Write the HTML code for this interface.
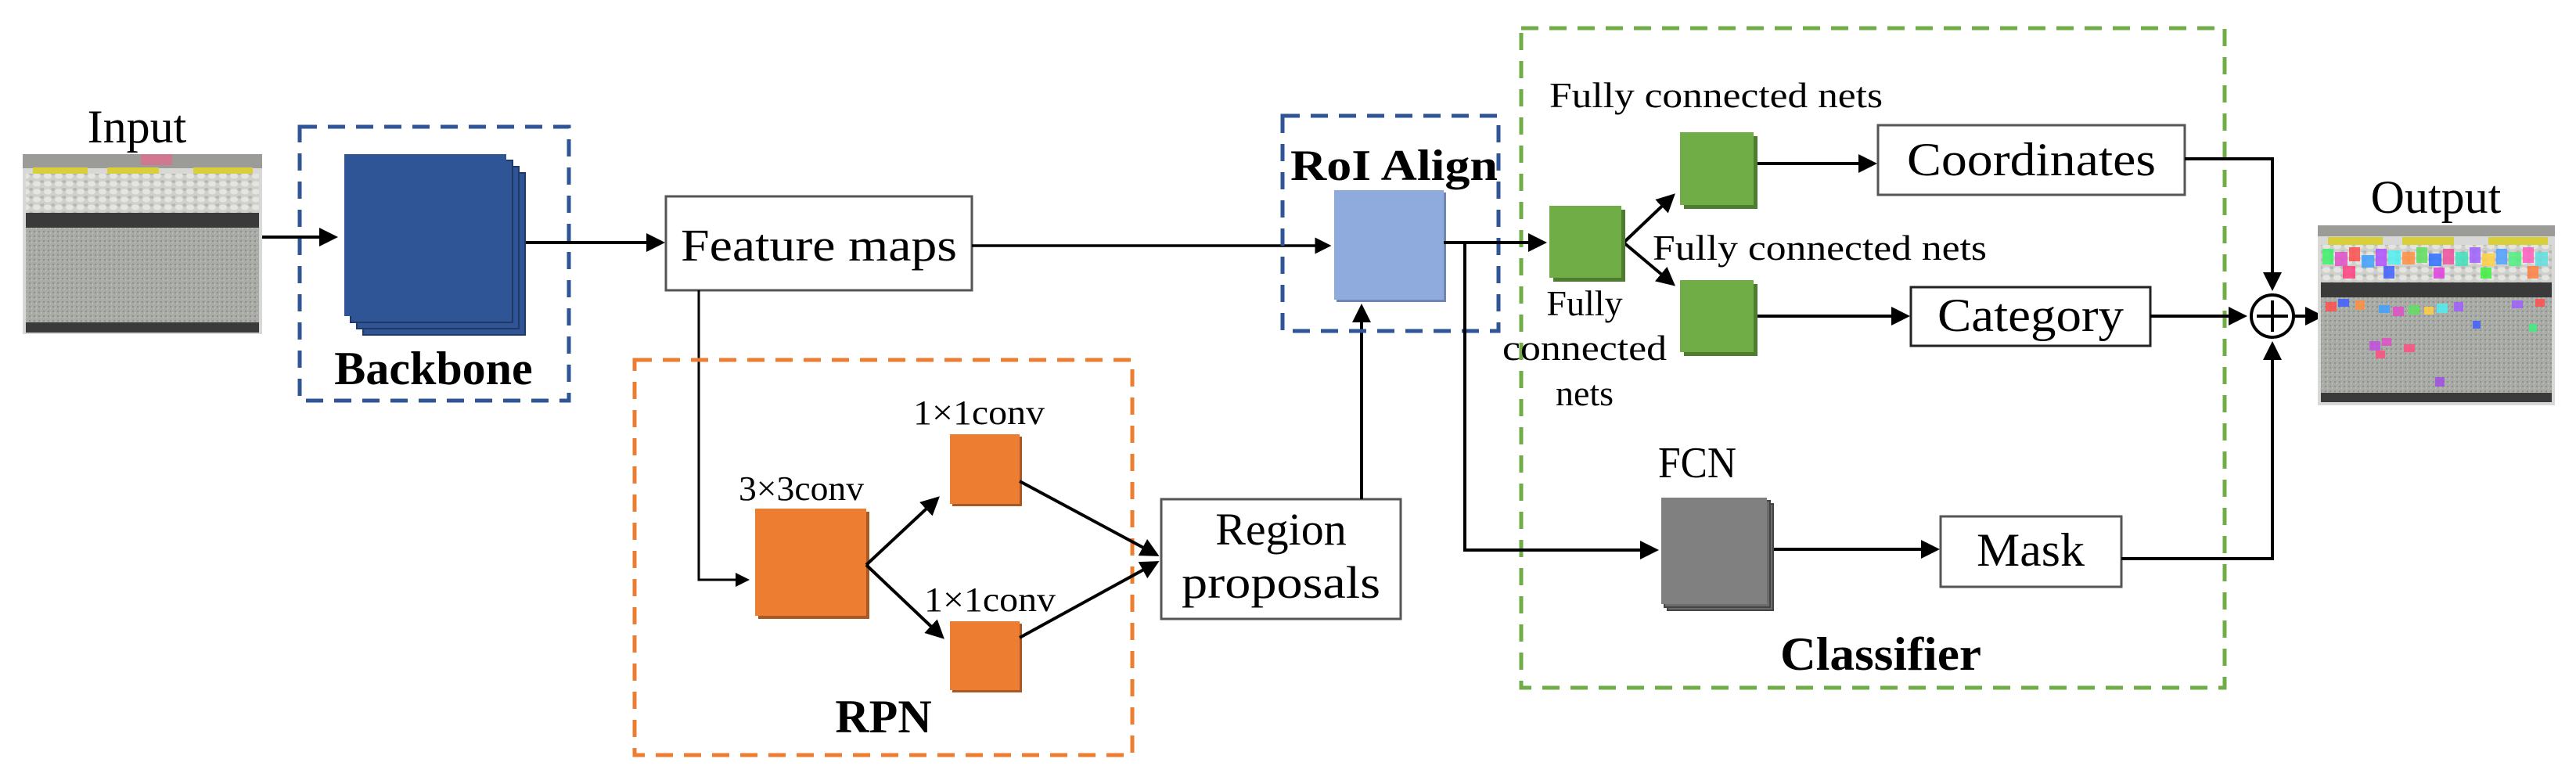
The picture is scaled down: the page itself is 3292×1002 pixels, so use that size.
<!DOCTYPE html>
<html><head><meta charset="utf-8"><style>
html,body{margin:0;padding:0;background:#fff;}
svg{display:block;}
svg text{font-family:"Liberation Serif","DejaVu Serif",serif !important;fill:#000;}
</style></head><body>
<svg width="3292" height="1002" viewBox="0 0 3292 1002" xmlns="http://www.w3.org/2000/svg" font-family="Liberation Serif, DejaVu Serif, serif">
<defs>
<marker id="ah" markerWidth="6" markerHeight="6" refX="5" refY="3" orient="auto" markerUnits="strokeWidth">
<path d="M0,0 L6,3 L0,6 z" fill="#000"/></marker>
<pattern id="stones" width="14" height="10" patternUnits="userSpaceOnUse">
<rect width="14" height="10" fill="#cfd0cc"/><ellipse cx="5" cy="5" rx="5" ry="3.5" fill="#e4e5e1"/><ellipse cx="12" cy="2" rx="3" ry="2" fill="#b8b9b4"/></pattern>
<pattern id="sand" width="6" height="6" patternUnits="userSpaceOnUse">
<rect width="6" height="6" fill="#a9aba6"/><rect x="1" y="1" width="2" height="2" fill="#8e908b"/><rect x="4" y="3" width="1" height="2" fill="#c3c4c0"/></pattern>
</defs>
<g font-family="Liberation Serif, DejaVu Serif, serif">

<!-- Input -->
<text x="175" y="182" font-size="60" text-anchor="middle">Input</text>
<g>
<rect x="29" y="197" width="306" height="230" fill="#d8d8d6"/>
<rect x="29" y="197" width="306" height="18" fill="#9b9b98"/>
<rect x="180" y="197" width="40" height="14" fill="#d07890"/>
<rect x="42" y="214" width="70" height="8" fill="#d9cf3b"/>
<rect x="137" y="214" width="66" height="8" fill="#d9cf3b"/>
<rect x="247" y="214" width="76" height="8" fill="#d9cf3b"/>
<rect x="33" y="222" width="298" height="50" fill="url(#stones)"/>
<rect x="33" y="272" width="298" height="19" fill="#3a3a3a"/>
<rect x="33" y="291" width="298" height="121" fill="url(#sand)"/>
<rect x="33" y="412" width="298" height="13" fill="#3a3a3a"/>
</g>

<!-- Backbone -->
<rect x="383" y="162" width="344" height="350" fill="none" stroke="#2f5597" stroke-width="5" stroke-dasharray="22,14"/>
<g stroke="#1f3864" stroke-width="2">
<rect x="464" y="221" width="207" height="207" fill="#2f5597"/>
<rect x="456" y="213" width="207" height="207" fill="#2f5597"/>
<rect x="448" y="205" width="207" height="207" fill="#2f5597"/>
<rect x="440" y="197" width="207" height="207" fill="#2f5597" stroke="none"/>
</g>
<text x="554" y="491" font-size="60" font-weight="bold" text-anchor="middle">Backbone</text>

<g stroke="#000" stroke-width="4" fill="none">
<line x1="335" y1="303" x2="428" y2="303" marker-end="url(#ah)"/>
<line x1="672" y1="310" x2="846" y2="310" marker-end="url(#ah)"/>
</g>

<!-- Feature maps -->
<rect x="851" y="251" width="391" height="120" fill="#fff" stroke="#555" stroke-width="3"/>
<text x="870" y="333" font-size="58" textLength="353" lengthAdjust="spacingAndGlyphs">Feature maps</text>
<line x1="1242" y1="314" x2="1698" y2="314" stroke="#000" stroke-width="3.5" marker-end="url(#ah)"/>
<polyline points="893,371 893,741 955,741" fill="none" stroke="#000" stroke-width="3" marker-end="url(#ah)"/>

<!-- RPN -->
<rect x="811" y="460" width="636" height="505" fill="none" stroke="#ed7d31" stroke-width="5" stroke-dasharray="22,14"/>
<text x="944" y="639" font-size="44" textLength="160" lengthAdjust="spacingAndGlyphs">3×3conv</text>
<rect x="969" y="654" width="142" height="137" fill="#a95a24"/>
<rect x="965" y="650" width="142" height="137" fill="#ed7d31"/>
<text x="1167" y="542" font-size="44" textLength="168" lengthAdjust="spacingAndGlyphs">1×1conv</text>
<rect x="1217" y="558" width="89" height="89" fill="#a95a24"/>
<rect x="1214" y="555" width="89" height="89" fill="#ed7d31"/>
<text x="1181" y="781" font-size="44" textLength="168" lengthAdjust="spacingAndGlyphs">1×1conv</text>
<rect x="1217" y="797" width="89" height="88" fill="#a95a24"/>
<rect x="1214" y="794" width="89" height="88" fill="#ed7d31"/>
<text x="1129" y="936" font-size="60" font-weight="bold" text-anchor="middle">RPN</text>
<g stroke="#000" stroke-width="4" fill="none">
<line x1="1107" y1="722" x2="1198" y2="637" marker-end="url(#ah)"/>
<line x1="1107" y1="722" x2="1204" y2="814" marker-end="url(#ah)"/>
<line x1="1303" y1="615" x2="1478" y2="709" marker-end="url(#ah)"/>
<line x1="1303" y1="815" x2="1478" y2="719" marker-end="url(#ah)"/>
</g>

<!-- Region proposals -->
<rect x="1484" y="638" width="306" height="153" fill="#fff" stroke="#555" stroke-width="3"/>
<text x="1637" y="696" font-size="58" text-anchor="middle">Region</text>
<text x="1637" y="764" font-size="58" text-anchor="middle" textLength="254" lengthAdjust="spacingAndGlyphs">proposals</text>
<line x1="1740" y1="638" x2="1740" y2="392" stroke="#000" stroke-width="4" marker-end="url(#ah)"/>

<!-- RoI Align -->
<rect x="1639" y="148" width="276" height="275" fill="none" stroke="#2f5597" stroke-width="5" stroke-dasharray="22,14"/>
<rect x="1708" y="246" width="140" height="140" fill="#6f86b0"/>
<rect x="1705" y="243" width="140" height="140" fill="#8faadc"/>
<text x="1649" y="230" font-size="56" font-weight="bold" textLength="265" lengthAdjust="spacingAndGlyphs">RoI Align</text>

<!-- Classifier -->
<rect x="1944" y="36" width="899" height="843" fill="none" stroke="#70ad47" stroke-width="5" stroke-dasharray="22,14"/>
<text x="2275" y="856" font-size="60" font-weight="bold" textLength="257" lengthAdjust="spacingAndGlyphs">Classifier</text>

<g stroke="#000" stroke-width="4" fill="none">
<line x1="1845" y1="310" x2="1973" y2="310" marker-end="url(#ah)"/>
<polyline points="1872,310 1872,703 2116,703" marker-end="url(#ah)"/>
<line x1="2075" y1="310" x2="2138" y2="250" marker-end="url(#ah)"/>
<line x1="2075" y1="310" x2="2138" y2="363" marker-end="url(#ah)"/>
<line x1="2241" y1="209" x2="2395" y2="209" marker-end="url(#ah)"/>
<line x1="2241" y1="404" x2="2437" y2="404" marker-end="url(#ah)"/>
<line x1="2266" y1="702" x2="2475" y2="702" marker-end="url(#ah)"/>
</g>

<rect x="1985" y="268" width="92" height="92" fill="#4e7d2f"/>
<rect x="1980" y="263" width="92" height="92" fill="#70ad47"/>
<text x="2025" y="403" font-size="46" text-anchor="middle">Fully</text>
<text x="2025" y="460" font-size="46" text-anchor="middle" textLength="210" lengthAdjust="spacingAndGlyphs">connected</text>
<text x="2025" y="518" font-size="46" text-anchor="middle">nets</text>

<text x="1980" y="137" font-size="46" textLength="426" lengthAdjust="spacingAndGlyphs">Fully connected nets</text>
<rect x="2152" y="174" width="94" height="93" fill="#4e7d2f"/>
<rect x="2147" y="169" width="94" height="93" fill="#70ad47"/>
<text x="2112" y="332" font-size="46" textLength="427" lengthAdjust="spacingAndGlyphs">Fully connected nets</text>
<rect x="2152" y="363" width="94" height="92" fill="#4e7d2f"/>
<rect x="2147" y="358" width="94" height="92" fill="#70ad47"/>

<!-- FCN -->
<text x="2119" y="610" font-size="56" textLength="100" lengthAdjust="spacingAndGlyphs">FCN</text>
<g stroke="#444" stroke-width="2">
<rect x="2131" y="644" width="135" height="136" fill="#6b6b6b"/>
<rect x="2127" y="640" width="135" height="136" fill="#6b6b6b"/>
<rect x="2123" y="636" width="135" height="136" fill="#808080" stroke="none"/>
</g>

<!-- outputs -->
<rect x="2400" y="160" width="392" height="89" fill="#fff" stroke="#555" stroke-width="3"/>
<text x="2596" y="224" font-size="60" text-anchor="middle" textLength="318" lengthAdjust="spacingAndGlyphs">Coordinates</text>
<rect x="2442" y="367" width="306" height="75" fill="#fff" stroke="#222" stroke-width="3"/>
<text x="2595" y="423" font-size="60" text-anchor="middle" textLength="238" lengthAdjust="spacingAndGlyphs">Category</text>
<rect x="2480" y="660" width="231" height="90" fill="#fff" stroke="#555" stroke-width="3"/>
<text x="2595" y="723" font-size="60" text-anchor="middle" textLength="138" lengthAdjust="spacingAndGlyphs">Mask</text>

<g stroke="#000" stroke-width="4" fill="none">
<polyline points="2792,203 2904,203 2904,368" marker-end="url(#ah)"/>
<line x1="2748" y1="404" x2="2868" y2="404" marker-end="url(#ah)"/>
<polyline points="2711,714 2904,714 2904,440" marker-end="url(#ah)"/>
<line x1="2933" y1="404" x2="2966" y2="404" marker-end="url(#ah)"/>
<circle cx="2904" cy="404" r="27" fill="#fff"/>
<line x1="2904" y1="384" x2="2904" y2="424"/>
<line x1="2884" y1="404" x2="2924" y2="404"/>
</g>

<!-- Output -->
<text x="3113" y="272" font-size="60" text-anchor="middle">Output</text>
<g>
<rect x="2962" y="288" width="303" height="230" fill="#d8d8d6"/>
<rect x="2962" y="288" width="303" height="14" fill="#9b9b98"/>
<rect x="2975" y="303" width="70" height="10" fill="#d9cf3b"/>
<rect x="3070" y="303" width="66" height="10" fill="#d9cf3b"/>
<rect x="3180" y="303" width="76" height="10" fill="#d9cf3b"/>
<rect x="2966" y="313" width="295" height="48" fill="url(#stones)"/>
<g opacity="0.85">
<rect x="2968" y="318" width="14" height="20" fill="#3cf06a"/><rect x="2984" y="322" width="16" height="18" fill="#e050c8"/>
<rect x="3002" y="316" width="14" height="18" fill="#ff5050"/><rect x="3018" y="326" width="16" height="16" fill="#40a0ff"/>
<rect x="3036" y="318" width="14" height="22" fill="#b050ff"/><rect x="3052" y="320" width="16" height="18" fill="#50f0f0"/>
<rect x="3070" y="322" width="16" height="16" fill="#ff9040"/><rect x="3088" y="316" width="14" height="20" fill="#60e060"/>
<rect x="3104" y="324" width="16" height="16" fill="#3070ff"/><rect x="3122" y="318" width="14" height="20" fill="#f050a0"/>
<rect x="3138" y="322" width="16" height="18" fill="#40e0c0"/><rect x="3156" y="316" width="14" height="20" fill="#a060ff"/>
<rect x="3172" y="324" width="16" height="16" fill="#ffd040"/><rect x="3190" y="318" width="14" height="20" fill="#50a0ff"/>
<rect x="3206" y="322" width="16" height="18" fill="#50f080"/><rect x="3224" y="316" width="14" height="20" fill="#ff60c0"/>
<rect x="3240" y="322" width="16" height="18" fill="#60e0e0"/><rect x="2994" y="340" width="16" height="16" fill="#ff4080"/>
<rect x="3046" y="340" width="14" height="16" fill="#4060ff"/><rect x="3110" y="342" width="14" height="14" fill="#e040e0"/>
<rect x="3170" y="342" width="14" height="14" fill="#40f040"/><rect x="3230" y="340" width="14" height="16" fill="#ff8040"/>
</g>
<rect x="2966" y="361" width="295" height="19" fill="#3a3a3a"/>
<rect x="2966" y="380" width="295" height="122" fill="url(#sand)"/>
<g opacity="0.85">
<rect x="2972" y="386" width="14" height="12" fill="#ff5050"/><rect x="2988" y="382" width="14" height="10" fill="#4060ff"/>
<rect x="3010" y="384" width="12" height="12" fill="#ff9040"/><rect x="3040" y="390" width="14" height="10" fill="#40a0ff"/>
<rect x="3058" y="392" width="14" height="12" fill="#e050c8"/><rect x="3078" y="390" width="14" height="12" fill="#60e060"/>
<rect x="3098" y="392" width="12" height="10" fill="#ffd040"/><rect x="3114" y="388" width="14" height="12" fill="#50f0f0"/>
<rect x="3136" y="386" width="12" height="12" fill="#a060ff"/><rect x="3210" y="384" width="14" height="10" fill="#a060ff"/>
<rect x="3240" y="382" width="12" height="10" fill="#ff5050"/><rect x="3160" y="410" width="10" height="10" fill="#4060ff"/>
<rect x="3028" y="436" width="14" height="12" fill="#c050e0"/><rect x="3044" y="432" width="12" height="10" fill="#e050c8"/>
<rect x="3036" y="448" width="12" height="10" fill="#ff5080"/><rect x="3072" y="440" width="14" height="10" fill="#ff5080"/>
<rect x="3232" y="414" width="10" height="10" fill="#40f080"/><rect x="3112" y="482" width="12" height="12" fill="#a050e0"/>
</g>
<rect x="2966" y="502" width="295" height="12" fill="#3a3a3a"/>
</g>
</g>
</svg>
</body></html>
